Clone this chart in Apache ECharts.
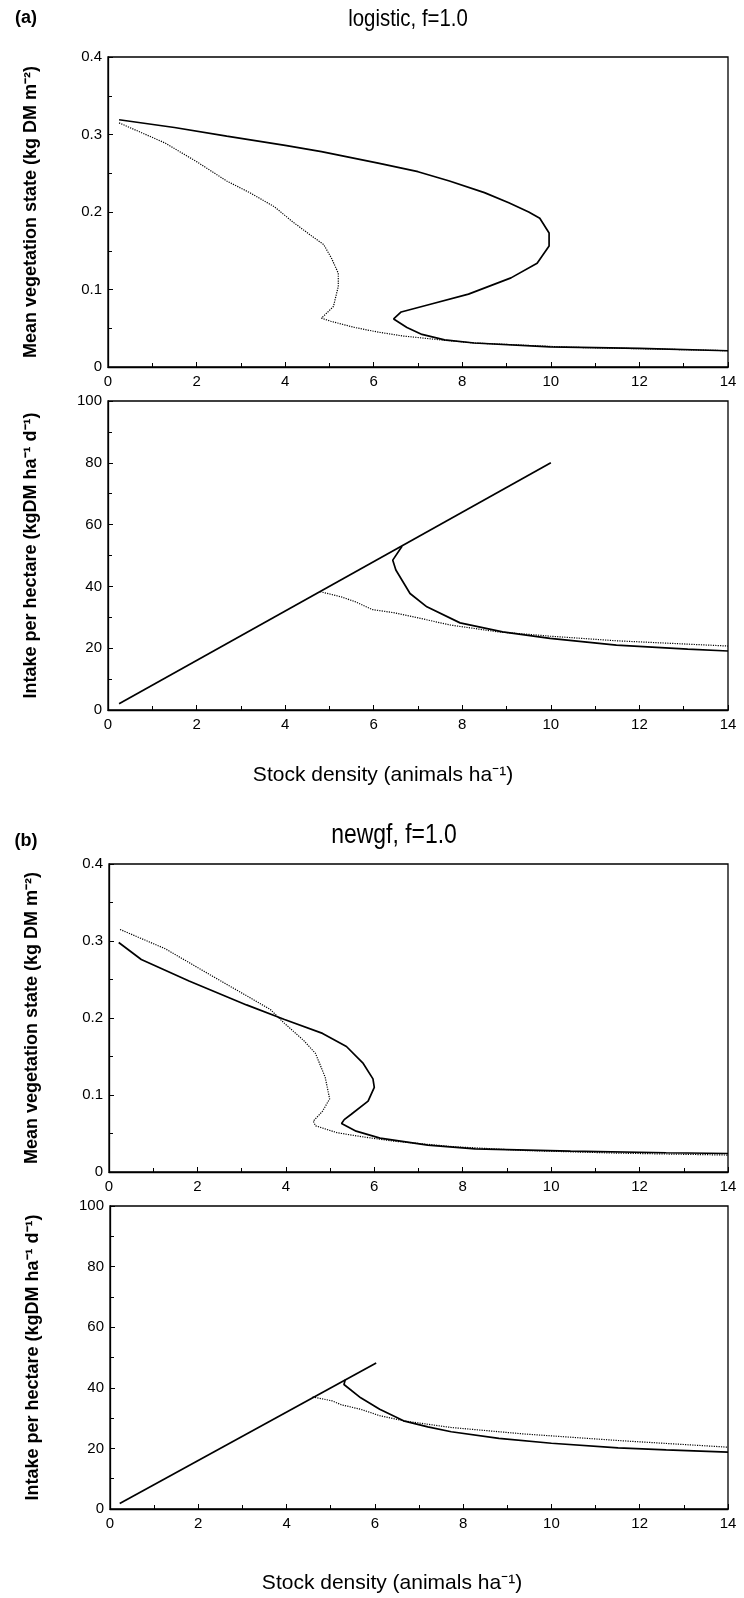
<!DOCTYPE html>
<html>
<head>
<meta charset="utf-8">
<script src="https://cdn.jsdelivr.net/npm/echarts@6/dist/echarts.min.js"></script>
<style>
html,body{margin:0;padding:0;background:#fff;}
#c{width:744px;height:1598px;}
</style>
</head>
<body>
<div id="c"></div>
<script>
// ---- data: [stock density, value] ----
const xTicks = [0, 2, 4, 6, 8, 10, 12, 14];
const vegTicks = [0, 0.1, 0.2, 0.3, 0.4];
const intakeTicks = [0, 20, 40, 60, 80, 100];

// (a) logistic, f=1.0 — mean vegetation state
const aVegSolid = [[0.25,0.319],[1.5,0.309],[2.68,0.298],[4.0,0.286],[4.82,0.278],[6.1,0.263],[7.0,0.252],[7.71,0.240],[8.5,0.225],[9.05,0.212],[9.5,0.200],[9.75,0.192],[9.96,0.173],[9.96,0.156],[9.69,0.134],[9.1,0.115],[8.14,0.094],[7.28,0.081],[6.62,0.071],[6.45,0.062],[6.75,0.051],[7.09,0.042],[7.6,0.035],[8.27,0.031],[9.98,0.026],[12.0,0.024],[14.0,0.021]];
const aVegDotted = [[0.25,0.315],[1.29,0.289],[2.0,0.265],[2.68,0.240],[3.2,0.225],[3.75,0.207],[4.2,0.186],[4.6,0.169],[4.87,0.158],[5.05,0.140],[5.2,0.121],[5.2,0.104],[5.09,0.078],[4.82,0.063],[5.03,0.059],[5.57,0.051],[6.1,0.045],[6.66,0.040],[7.5,0.035],[8.27,0.031],[10.4,0.0255],[12.55,0.023],[14.0,0.021]];
// (a) intake per hectare
const aIntakeLine = [[0.25,2.0],[10.0,80.0]];
const aIntakeSolid = [[6.64,53.0],[6.43,48.5],[6.5,45.3],[6.82,37.7],[7.2,33.4],[7.95,28.2],[8.91,25.3],[9.98,23.2],[11.48,21.0],[13.09,19.7],[14.0,19.1]];
const aIntakeDotted = [[4.79,38.3],[5.27,36.6],[5.59,35.0],[5.97,32.5],[6.45,31.5],[6.88,30.2],[7.73,27.5],[8.8,25.3],[9.98,23.9],[11.48,22.4],[14.0,20.7]];

// (b) newgf, f=1.0 — mean vegetation state
const bVegSolid = [[0.22,0.298],[0.73,0.276],[1.81,0.248],[3.11,0.217],[3.97,0.198],[4.83,0.180],[5.37,0.163],[5.75,0.141],[5.97,0.121],[6.0,0.110],[5.86,0.092],[5.48,0.075],[5.32,0.068],[5.26,0.063],[5.59,0.053],[6.13,0.044],[7.21,0.035],[8.28,0.030],[10.44,0.027],[12.6,0.025],[14.0,0.024]];
const bVegDotted = [[0.25,0.315],[1.27,0.290],[2.35,0.254],[3.2,0.226],[3.65,0.211],[3.97,0.193],[4.4,0.171],[4.67,0.154],[4.89,0.123],[4.99,0.095],[4.83,0.079],[4.62,0.066],[4.67,0.060],[5.16,0.051],[5.70,0.046],[6.45,0.040],[7.75,0.033],[9.36,0.028],[11.5,0.0245],[14.0,0.022]];
// (b) intake per hectare
const bIntakeLine = [[0.22,1.8],[6.03,48.2]];
const bIntakeSolid = [[5.33,42.7],[5.3,41.1],[5.68,36.7],[6.11,32.9],[6.65,29.1],[7.2,27.1],[7.73,25.5],[8.81,23.3],[10.0,21.7],[11.51,20.2],[12.6,19.5],[14.0,18.8]];
const bIntakeDotted = [[4.59,37.0],[5.03,35.7],[5.24,34.4],[5.68,32.9],[6.11,30.8],[6.65,29.1],[7.73,26.9],[9.35,24.8],[11.51,22.6],[14.0,20.4]];

const titleA = 'logistic, f=1.0';
const titleB = 'newgf, f=1.0';
const xName = 'Stock density (animals ha\u207B\u00B9)';
const vegName = 'Mean vegetation state (kg DM m\u207B\u00B2)';
const intakeName = 'Intake per hectare (kgDM ha\u207B\u00B9 d\u207B\u00B9)';

// ---- chart ----
const SANS = '"Liberation Sans", Arial, sans-serif';

const grids = [
  {left:108, width:620, top:57, height:310},
  {left:108, width:620, top:401, height:309},
  {left:109, width:619, top:864, height:308},
  {left:110, width:618, top:1206, height:303}
];

function xAx(i){
  return {
    type:'value', gridIndex:i, min:xTicks[0], max:xTicks[xTicks.length-1], interval:2,
    axisLine:{show:true, onZero:false, lineStyle:{color:'#000', width:1.3}},
    axisTick:{show:true, inside:true, length:5, lineStyle:{color:'#000'}},
    minorTick:{show:true, splitNumber:2, length:4, lineStyle:{color:'#000'}},
    splitLine:{show:false},
    axisLabel:{color:'#000', fontFamily:SANS, fontSize:15, margin:7}
  };
}
function yAx(i, max, interval, name){
  return {
    type:'value', gridIndex:i, min:0, max:max, interval:interval,
    name:name, nameLocation:'middle', nameGap:68,
    nameTextStyle:{color:'#000', fontFamily:SANS, fontSize:18, fontWeight:'bold'},
    axisLine:{show:true, onZero:false, lineStyle:{color:'#000', width:1.3}},
    axisTick:{show:true, inside:true, length:5, lineStyle:{color:'#000'}},
    minorTick:{show:true, splitNumber:2, length:4, lineStyle:{color:'#000'}},
    splitLine:{show:false},
    axisLabel:{color:'#000', fontFamily:SANS, fontSize:15, margin:6}
  };
}
function ser(i, data, dotted){
  return {
    type:'line', xAxisIndex:i, yAxisIndex:i, data:data, showSymbol:false, symbol:'none',
    smooth:false, silent:true, animation:false,
    lineStyle:{color:'#000', width: dotted ? 1.2 : 1.7, type: dotted ? 'dotted' : 'solid'}
  };
}

const chart = echarts.init(document.getElementById('c'), null, {renderer:'canvas'});
chart.setOption({
  animation:false,
  backgroundColor:'#fff',
  grid: grids.map(g => Object.assign({show:true, borderColor:'#000', borderWidth:1.3, backgroundColor:'transparent', containLabel:false}, g)),
  xAxis:[xAx(0), xAx(1), xAx(2), xAx(3)],
  yAxis:[
    yAx(0, vegTicks[vegTicks.length-1], 0.1, vegName),
    yAx(1, intakeTicks[intakeTicks.length-1], 20, intakeName),
    yAx(2, vegTicks[vegTicks.length-1], 0.1, vegName),
    yAx(3, intakeTicks[intakeTicks.length-1], 20, intakeName)
  ],
  series:[
    ser(0, aVegSolid, false), ser(0, aVegDotted, true),
    ser(1, aIntakeLine, false), ser(1, aIntakeSolid, false), ser(1, aIntakeDotted, true),
    ser(2, bVegSolid, false), ser(2, bVegDotted, true),
    ser(3, bIntakeLine, false), ser(3, bIntakeSolid, false), ser(3, bIntakeDotted, true)
  ],
  graphic:[
    {type:'text', x:26, y:18, style:{text:'(a)', fontFamily:SANS, fontSize:18, fontWeight:'bold', fill:'#000', align:'center', verticalAlign:'middle'}},
    {type:'text', x:408, y:19, scaleX:0.85, style:{text:titleA, fontFamily:SANS, fontSize:24, fill:'#000', align:'center', verticalAlign:'middle'}},
    {type:'text', x:383, y:775, style:{text:xName, fontFamily:SANS, fontSize:21, fill:'#000', align:'center', verticalAlign:'middle'}},
    {type:'text', x:26, y:841, style:{text:'(b)', fontFamily:SANS, fontSize:18, fontWeight:'bold', fill:'#000', align:'center', verticalAlign:'middle'}},
    {type:'text', x:394, y:836, scaleX:0.85, style:{text:titleB, fontFamily:SANS, fontSize:27, fill:'#000', align:'center', verticalAlign:'middle'}},
    {type:'text', x:392, y:1583, style:{text:xName, fontFamily:SANS, fontSize:21, fill:'#000', align:'center', verticalAlign:'middle'}}
  ]
});
</script>
</body>
</html>
